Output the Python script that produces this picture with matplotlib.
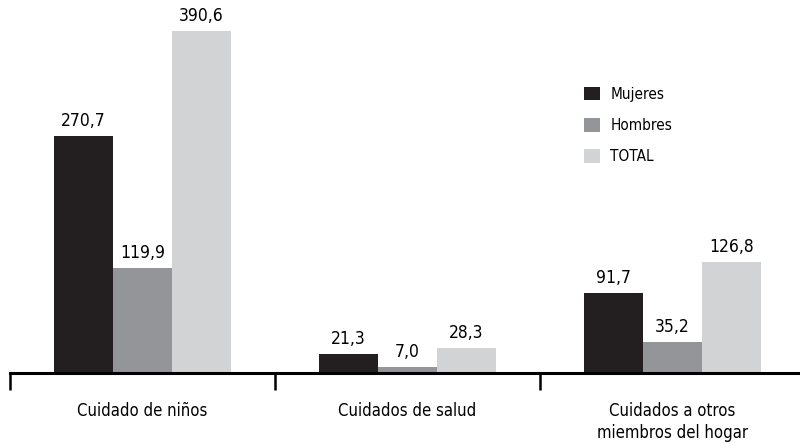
import numpy as np
import matplotlib.pyplot as plt

categorias = ['Cuidado de niños', 'Cuidados de salud', 'Cuidados a otros\nmiembros del hogar']
series = ['Mujeres', 'Hombres', 'TOTAL']
mujeres = [270.7, 21.3, 91.7]
hombres = [119.9, 7.0, 35.2]
total = [390.6, 28.3, 126.8]
colores = ['#231f20', '#939598', '#d1d3d4']

plt.rcParams['font.family'] = ['DejaVu Sans']
plt.rcParams['font.stretch'] = 'condensed'

fig = plt.figure(figsize=(8, 4.44), dpi=100)
ax = fig.add_axes([10 / 800, 71 / 444, 795 / 800, 368 / 444])

x = np.arange(len(categorias))
w = 0.222
for i, (vals, nombre) in enumerate(zip([mujeres, hombres, total], series)):
    barras = ax.bar(x + (i - 1) * w, vals, w, color=colores[i], label=nombre)
    for b, v in zip(barras, vals):
        ax.text(b.get_x() + b.get_width() / 2, v + 7, f'{v:.1f}'.replace('.', ','),
                ha='center', va='bottom', fontsize=12.5)

ax.set_xlim(-0.5, 2.5)
ax.set_ylim(0, 420)
for s in ['top', 'right', 'left']:
    ax.spines[s].set_visible(False)
ax.spines['bottom'].set_linewidth(2.2)
ax.set_yticks([])
ax.set_xticks([-0.5, 0.5, 1.5, 2.5])
ax.set_xticklabels([])
ax.tick_params(axis='x', length=12, width=1.8, direction='out')
ax.set_xticks(x, minor=True)
ax.set_xticklabels(categorias, minor=True, fontsize=12, linespacing=1.3)
ax.tick_params(axis='x', which='minor', length=0, pad=21)

ax.legend(loc='upper left', bbox_to_anchor=(570 / 800, 1 - 73 / 444), bbox_transform=fig.transFigure,
          frameon=False, fontsize=11, handlelength=1.05, handleheight=1.0,
          labelspacing=1.05, handletextpad=0.7)

plt.savefig('out.png')
